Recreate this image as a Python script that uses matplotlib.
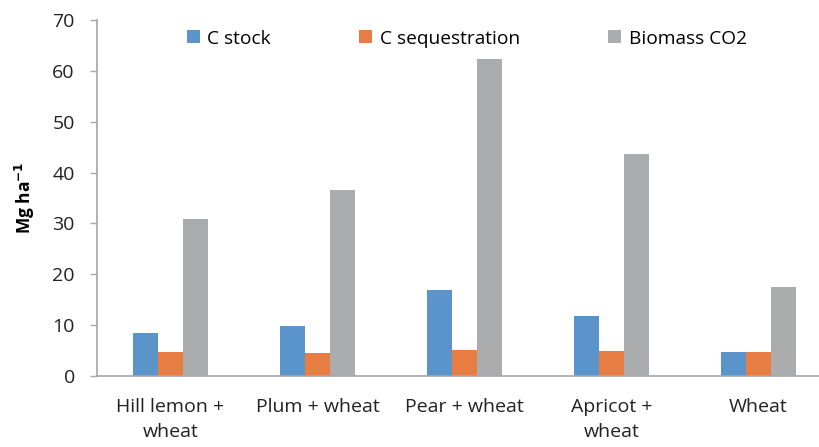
import matplotlib
matplotlib.use("Agg")
import matplotlib.pyplot as plt
import numpy as np

categories = ["Hill lemon +\nwheat", "Plum + wheat", "Pear + wheat", "Apricot +\nwheat", "Wheat"]
series_names = ["C stock", "C sequestration", "Biomass CO2"]
c_stock = [8.4, 9.9, 16.9, 11.7, 4.8]
c_seq = [4.8, 4.6, 5.2, 5.0, 4.8]
biomass_co2 = [30.9, 36.5, 62.3, 43.6, 17.5]
colors = ["#5b93cb", "#e77d42", "#abacae"]

plt.rcParams['font.family'] = ['Open Sans', 'DejaVu Sans']

fig = plt.figure(figsize=(8.19, 4.47), dpi=100)
ax = fig.add_axes([97/819, 1 - 376/447, 735/819, 356/447])

x = np.arange(len(categories))
w = 0.168
for i, (vals, name, col) in enumerate(zip([c_stock, c_seq, biomass_co2], series_names, colors)):
    ax.bar(x + (i - 1) * w, vals, width=w, color=col, label=name)

ax.set_xlim(-0.5, len(categories) - 0.5)
ax.set_ylim(0, 70)
ax.set_yticks(np.arange(0, 71, 10))
ax.set_xticks(x)
ax.set_xticklabels(categories, fontsize=14, color="#222222", linespacing=1.5)
ax.tick_params(axis='x', length=0, pad=16)
ax.tick_params(axis='y', labelsize=14, colors="#222222", length=5, width=1, color="#a6a6a6", pad=11)

for s in ["top", "right"]:
    ax.spines[s].set_visible(False)
for s in ["left", "bottom"]:
    ax.spines[s].set_color("#a6a6a6")
    ax.spines[s].set_linewidth(1.2)

ax.set_ylabel(r"Mg ha$^{\mathbf{-1}}$", fontsize=12.5, fontweight='bold', labelpad=11)

leg = ax.legend(loc='center', bbox_to_anchor=(0.503, 0.948), ncol=3, frameon=False,
                fontsize=13.8, handlelength=0.68, handleheight=0.68, handletextpad=0.4,
                columnspacing=4.6, borderpad=0)

fig.savefig("out.png", dpi=100)
